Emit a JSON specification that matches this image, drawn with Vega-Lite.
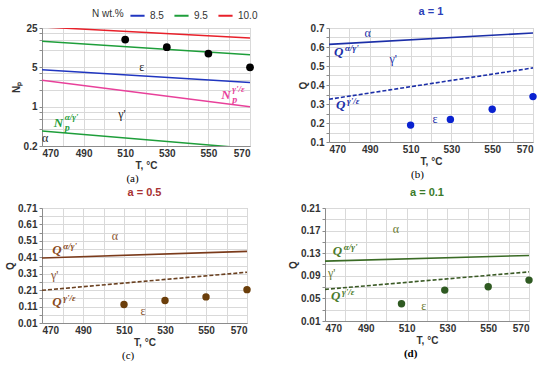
{
  "$schema": "https://vega.github.io/schema/vega-lite/v6.json",
  "background": "white",
  "padding": {"left": 5, "top": 5, "right": 5, "bottom": 0},
  "datasets": {
    "a_n": [
      {"N": "8.5", "T": 470, "Np": 4.55}, {"N": "8.5", "T": 570, "Np": 2.68},
      {"N": "9.5", "T": 470, "Np": 14.5}, {"N": "9.5", "T": 570, "Np": 8.4},
      {"N": "10.0", "T": 470, "Np": 26.1}, {"N": "10.0", "T": 570, "Np": 16.6}
    ],
    "a_pe": [{"T": 470, "Np": 2.94}, {"T": 570, "Np": 1.0}],
    "a_ag": [{"T": 470, "Np": 0.37}, {"T": 570, "Np": 0.181}],
    "a_pts": [{"T": 510, "Np": 15.6}, {"T": 530, "Np": 11.4}, {"T": 550, "Np": 8.8}, {"T": 570, "Np": 5.0}],
    "a_greek": [{"T": 518, "Np": 5.1, "text": "ε"}, {"T": 508.4, "Np": 0.74, "text": "γ'"}, {"T": 471.5, "Np": 0.283, "text": "α"}],
    "a_nag": [{"T": 475.6, "Np": 0.52, "main": "N", "sup": "α/γ'", "sub": "p"}],
    "a_npe": [{"T": 556.2, "Np": 1.62, "main": "N", "sup": "γ'/ε", "sub": "p"}],
    "b_ag": [{"T": 470, "Q": 0.614}, {"T": 570, "Q": 0.674}],
    "b_ge": [{"T": 470, "Q": 0.325}, {"T": 570, "Q": 0.49}],
    "b_pts": [{"T": 510, "Q": 0.189}, {"T": 529.5, "Q": 0.219}, {"T": 550, "Q": 0.272}, {"T": 570, "Q": 0.339}],
    "b_greek": [{"T": 489, "Q": 0.676, "text": "α"}, {"T": 501.5, "Q": 0.539, "text": "γ'"}, {"T": 522, "Q": 0.223, "text": "ε"}],
    "b_q": [{"T": 472.5, "Q": 0.574, "main": "Q", "sup": "α/γ'"}, {"T": 473.4, "Q": 0.293, "main": "Q", "sup": "γ'/ε"}],
    "c_ag": [{"T": 470, "Q": 0.406}, {"T": 570, "Q": 0.446}],
    "c_ge": [{"T": 470, "Q": 0.209}, {"T": 570, "Q": 0.319}],
    "c_pts": [{"T": 510, "Q": 0.123}, {"T": 530, "Q": 0.147}, {"T": 550, "Q": 0.169}, {"T": 570, "Q": 0.213}],
    "c_greek": [{"T": 505.5, "Q": 0.538, "text": "α"}, {"T": 476.2, "Q": 0.304, "text": "γ'"}, {"T": 519.3, "Q": 0.081, "text": "ε"}],
    "c_q": [{"T": 475, "Q": 0.456, "main": "Q", "sup": "α/γ'"}, {"T": 475, "Q": 0.136, "main": "Q", "sup": "γ'/ε"}],
    "d_ag": [{"T": 470, "Q": 0.116}, {"T": 570, "Q": 0.126}],
    "d_ge": [{"T": 470, "Q": 0.066}, {"T": 570, "Q": 0.097}],
    "d_pts": [{"T": 507.5, "Q": 0.0405}, {"T": 528.7, "Q": 0.0647}, {"T": 550, "Q": 0.0706}, {"T": 570, "Q": 0.0824}],
    "d_greek": [{"T": 504.8, "Q": 0.172, "text": "α"}, {"T": 473.3, "Q": 0.095, "text": "γ'"}, {"T": 518.4, "Q": 0.036, "text": "ε"}],
    "d_q": [{"T": 473.8, "Q": 0.134, "main": "Q", "sup": "α/γ'"}, {"T": 473, "Q": 0.054, "main": "Q", "sup": "γ'/ε"}]
  },
  "vconcat": [
    {
      "hconcat": [
        {
          "title": {"text": "(a)", "orient": "bottom", "anchor": "middle", "font": "Liberation Serif", "fontSize": 11, "fontWeight": "normal", "color": "#000", "offset": 2},
          "vconcat": [
            {
              "width": 208, "height": 118,
              "encoding": {
                "x": {"field": "T", "type": "quantitative", "scale": {"domain": [470, 570], "nice": false},
                  "axis": {"values": [470, 480, 490, 500, 510, 520, 530, 540, 550, 560, 570], "labelExpr": "(datum.value-470)%20==0 ? datum.label : ''", "title": "T, °C", "ticks": false}},
                "y": {"field": "Np", "type": "quantitative", "scale": {"type": "log", "domain": [0.2, 25], "nice": false},
                  "axis": {"values": [0.2, 0.4, 0.6, 0.8, 1, 2, 3, 4, 5, 10, 15, 20, 25], "labelExpr": "indexof([0.2,1,5,25], datum.value) >= 0 ? datum.value + '' : ''", "title": "Nₚ"}}
              },
              "layer": [
                {"data": {"name": "a_n"}, "mark": {"type": "line", "clip": true, "strokeWidth": 1.5},
                  "encoding": {"color": {"field": "N", "type": "nominal", "sort": ["8.5", "9.5", "10.0"],
                    "scale": {"domain": ["8.5", "9.5", "10.0"], "range": ["#2036c0", "#1e9e3a", "#e8202a"]},
                    "legend": {"orient": "none", "legendX": 50, "legendY": -21, "direction": "horizontal", "title": "N wt.%", "titleOrient": "left", "titleFontWeight": "normal", "titleFontSize": 10, "titleColor": "#333", "labelFontSize": 10, "labelColor": "#333", "symbolType": "stroke", "symbolStrokeWidth": 2, "symbolSize": 200, "columnPadding": 6, "padding": 0}}}},
                {"data": {"name": "a_pe"}, "mark": {"type": "line", "clip": true, "strokeWidth": 1.5, "color": "#e8409a"}, "encoding": {}},
                {"data": {"name": "a_ag"}, "mark": {"type": "line", "clip": true, "strokeWidth": 1.5, "color": "#1e9e3a"}, "encoding": {}},
                {"data": {"name": "a_pts"}, "mark": {"type": "circle", "size": 60, "color": "#000", "opacity": 1}, "encoding": {}},
                {"data": {"name": "a_greek"}, "mark": {"type": "text", "font": "Liberation Serif", "fontSize": 12, "color": "#222", "align": "center", "baseline": "middle"}, "encoding": {"text": {"field": "text"}}},
                {"data": {"name": "a_nag"}, "mark": {"type": "text", "font": "Liberation Serif", "fontSize": 13, "fontStyle": "italic", "fontWeight": "bold", "color": "#1e9e3a", "align": "left", "baseline": "middle"}, "encoding": {"text": {"field": "main"}}},
                {"data": {"name": "a_nag"}, "mark": {"type": "text", "font": "Liberation Serif", "fontSize": 9, "fontStyle": "italic", "fontWeight": "bold", "color": "#1e9e3a", "align": "left", "baseline": "middle", "dx": 11, "dy": -6}, "encoding": {"text": {"field": "sup"}}},
                {"data": {"name": "a_nag"}, "mark": {"type": "text", "font": "Liberation Serif", "fontSize": 10, "fontStyle": "italic", "fontWeight": "bold", "color": "#1e9e3a", "align": "left", "baseline": "middle", "dx": 11, "dy": 5}, "encoding": {"text": {"field": "sub"}}},
                {"data": {"name": "a_npe"}, "mark": {"type": "text", "font": "Liberation Serif", "fontSize": 13, "fontStyle": "italic", "fontWeight": "bold", "color": "#e8409a", "align": "left", "baseline": "middle"}, "encoding": {"text": {"field": "main"}}},
                {"data": {"name": "a_npe"}, "mark": {"type": "text", "font": "Liberation Serif", "fontSize": 9, "fontStyle": "italic", "fontWeight": "bold", "color": "#e8409a", "align": "left", "baseline": "middle", "dx": 11, "dy": -6}, "encoding": {"text": {"field": "sup"}}},
                {"data": {"name": "a_npe"}, "mark": {"type": "text", "font": "Liberation Serif", "fontSize": 10, "fontStyle": "italic", "fontWeight": "bold", "color": "#e8409a", "align": "left", "baseline": "middle", "dx": 11, "dy": 5}, "encoding": {"text": {"field": "sub"}}}
              ]
            }
          ]
        },
        {
          "title": {"text": "(b)", "orient": "bottom", "anchor": "middle", "font": "Liberation Serif", "fontSize": 11, "fontWeight": "normal", "color": "#000", "offset": 2},
          "vconcat": [
            {
              "width": 204, "height": 114,
              "title": {"text": "a = 1", "color": "#2a3fb8", "fontSize": 11, "fontWeight": "bold", "font": "Liberation Sans", "anchor": "middle", "offset": 6},
              "encoding": {
                "x": {"field": "T", "type": "quantitative", "scale": {"domain": [470, 570], "nice": false},
                  "axis": {"values": [470, 480, 490, 500, 510, 520, 530, 540, 550, 560, 570], "labelExpr": "(datum.value-470)%20==0 ? datum.label : ''", "title": "T, °C", "ticks": false}},
                "y": {"field": "Q", "type": "quantitative", "scale": {"domain": [0.1, 0.7], "nice": false},
                  "axis": {"values": [0.1, 0.15, 0.2, 0.25, 0.3, 0.35, 0.4, 0.45, 0.5, 0.55, 0.6, 0.65, 0.7], "labelExpr": "abs(datum.value*10-round(datum.value*10))<0.01 ? format(datum.value,'.1f') : ''", "title": "Q"}}
              },
              "layer": [
                {"data": {"name": "b_ag"}, "mark": {"type": "line", "strokeWidth": 1.6, "color": "#1c2fa8"}, "encoding": {}},
                {"data": {"name": "b_ge"}, "mark": {"type": "line", "strokeWidth": 1.6, "color": "#1c2fa8", "strokeDash": [4, 2]}, "encoding": {}},
                {"data": {"name": "b_pts"}, "mark": {"type": "circle", "size": 55, "color": "#0a22d0", "opacity": 1}, "encoding": {}},
                {"data": {"name": "b_greek"}, "mark": {"type": "text", "font": "Liberation Serif", "fontSize": 12, "color": "#1c2fa8", "align": "center", "baseline": "middle"}, "encoding": {"text": {"field": "text"}}},
                {"data": {"name": "b_q"}, "mark": {"type": "text", "font": "Liberation Serif", "fontSize": 13, "fontStyle": "italic", "fontWeight": "bold", "color": "#1c2fa8", "align": "left", "baseline": "middle"}, "encoding": {"text": {"field": "main"}}},
                {"data": {"name": "b_q"}, "mark": {"type": "text", "font": "Liberation Serif", "fontSize": 9, "fontStyle": "italic", "fontWeight": "bold", "color": "#1c2fa8", "align": "left", "baseline": "middle", "dx": 11, "dy": -4}, "encoding": {"text": {"field": "sup"}}}
              ]
            }
          ]
        }
      ],
      "spacing": 42
    },
    {
      "hconcat": [
        {
          "title": {"text": "(c)", "orient": "bottom", "anchor": "middle", "font": "Liberation Serif", "fontSize": 11, "fontWeight": "normal", "color": "#000", "offset": 2},
          "vconcat": [
            {
              "width": 205, "height": 115,
              "title": {"text": "a = 0.5", "color": "#a83232", "fontSize": 11, "fontWeight": "bold", "font": "Liberation Sans", "anchor": "middle", "offset": 5},
              "encoding": {
                "x": {"field": "T", "type": "quantitative", "scale": {"domain": [470, 570], "nice": false},
                  "axis": {"values": [470, 480, 490, 500, 510, 520, 530, 540, 550, 560, 570], "labelExpr": "(datum.value-470)%20==0 ? datum.label : ''", "title": "T, °C", "ticks": false}},
                "y": {"field": "Q", "type": "quantitative", "scale": {"domain": [0.01, 0.71], "nice": false},
                  "axis": {"values": [0.01, 0.06, 0.11, 0.16, 0.21, 0.26, 0.31, 0.36, 0.41, 0.46, 0.51, 0.56, 0.61, 0.66, 0.71], "labelExpr": "abs((datum.value-0.01)*10-round((datum.value-0.01)*10))<0.01 ? format(datum.value,'.2f') : ''", "title": "Q"}}
              },
              "layer": [
                {"data": {"name": "c_ag"}, "mark": {"type": "line", "strokeWidth": 1.6, "color": "#7a3a1a"}, "encoding": {}},
                {"data": {"name": "c_ge"}, "mark": {"type": "line", "strokeWidth": 1.6, "color": "#6a4020", "strokeDash": [4, 2]}, "encoding": {}},
                {"data": {"name": "c_pts"}, "mark": {"type": "circle", "size": 55, "color": "#6b3e0a", "opacity": 1}, "encoding": {}},
                {"data": {"name": "c_greek"}, "mark": {"type": "text", "font": "Liberation Serif", "fontSize": 12, "color": "#8a5530", "align": "center", "baseline": "middle"}, "encoding": {"text": {"field": "text"}}},
                {"data": {"name": "c_q"}, "mark": {"type": "text", "font": "Liberation Serif", "fontSize": 13, "fontStyle": "italic", "fontWeight": "bold", "color": "#8a4a20", "align": "left", "baseline": "middle"}, "encoding": {"text": {"field": "main"}}},
                {"data": {"name": "c_q"}, "mark": {"type": "text", "font": "Liberation Serif", "fontSize": 9, "fontStyle": "italic", "fontWeight": "bold", "color": "#8a4a20", "align": "left", "baseline": "middle", "dx": 11, "dy": -4}, "encoding": {"text": {"field": "sup"}}}
              ]
            }
          ]
        },
        {
          "title": {"text": "(d)", "orient": "bottom", "anchor": "middle", "font": "Liberation Serif", "fontSize": 11, "fontWeight": "bold", "color": "#000", "offset": 2},
          "vconcat": [
            {
              "width": 204, "height": 113,
              "title": {"text": "a = 0.1", "color": "#3a7a2a", "fontSize": 11, "fontWeight": "bold", "font": "Liberation Sans", "anchor": "middle", "offset": 5},
              "encoding": {
                "x": {"field": "T", "type": "quantitative", "scale": {"domain": [470, 570], "nice": false},
                  "axis": {"values": [470, 480, 490, 500, 510, 520, 530, 540, 550, 560, 570], "labelExpr": "(datum.value-470)%20==0 ? datum.label : ''", "title": "T, °C", "ticks": false}},
                "y": {"field": "Q", "type": "quantitative", "scale": {"domain": [0.01, 0.21], "nice": false},
                  "axis": {"values": [0.01, 0.03, 0.05, 0.07, 0.09, 0.11, 0.13, 0.15, 0.17, 0.19, 0.21], "labelExpr": "abs((datum.value-0.01)/0.04-round((datum.value-0.01)/0.04))<0.01 ? format(datum.value,'.2f') : ''", "title": "Q"}}
              },
              "layer": [
                {"data": {"name": "d_ag"}, "mark": {"type": "line", "strokeWidth": 1.6, "color": "#3a6b25"}, "encoding": {}},
                {"data": {"name": "d_ge"}, "mark": {"type": "line", "strokeWidth": 1.6, "color": "#3a5a25", "strokeDash": [4, 2]}, "encoding": {}},
                {"data": {"name": "d_pts"}, "mark": {"type": "circle", "size": 55, "color": "#2f5a22", "opacity": 1}, "encoding": {}},
                {"data": {"name": "d_greek"}, "mark": {"type": "text", "font": "Liberation Serif", "fontSize": 12, "color": "#6a7a30", "align": "center", "baseline": "middle"}, "encoding": {"text": {"field": "text"}}},
                {"data": {"name": "d_q"}, "mark": {"type": "text", "font": "Liberation Serif", "fontSize": 13, "fontStyle": "italic", "fontWeight": "bold", "color": "#4a7a2a", "align": "left", "baseline": "middle"}, "encoding": {"text": {"field": "main"}}},
                {"data": {"name": "d_q"}, "mark": {"type": "text", "font": "Liberation Serif", "fontSize": 9, "fontStyle": "italic", "fontWeight": "bold", "color": "#4a7a2a", "align": "left", "baseline": "middle", "dx": 11, "dy": -4}, "encoding": {"text": {"field": "sup"}}}
              ]
            }
          ]
        }
      ],
      "spacing": 36
    }
  ],
  "spacing": 2,
  "config": {
    "font": "Liberation Sans",
    "view": {"stroke": "#bfbfbf"},
    "concat": {"spacing": 0},
    "axis": {
      "labelFont": "Liberation Sans", "labelFontWeight": "bold", "labelFontSize": 10, "labelColor": "#333",
      "titleFont": "Liberation Sans", "titleFontWeight": "bold", "titleFontSize": 10, "titleColor": "#333",
      "gridColor": "#d9d9d9", "domainColor": "#8c8c8c", "tickColor": "#8c8c8c", "tickSize": 3,
      "labelPadding": 2, "titlePadding": 2, "labelOverlap": false
    },
    "axisY": {"titlePadding": 2}
  }
}
